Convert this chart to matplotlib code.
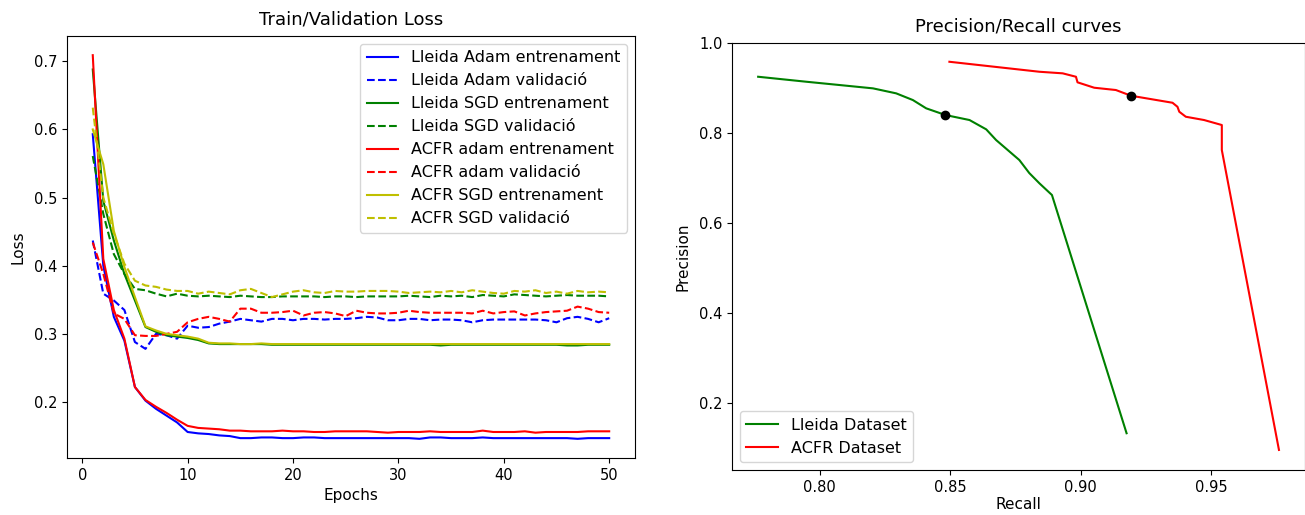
import matplotlib
matplotlib.use("Agg")
import matplotlib.pyplot as plt
from matplotlib.ticker import MultipleLocator, FormatStrFormatter
import numpy as np

epochs = np.arange(1, 51)

lleida_adam_train = [0.593, 0.400, 0.325, 0.290, 0.222, 0.202, 0.190, 0.180, 0.170, 0.156,
                     0.154, 0.153, 0.151, 0.150, 0.147, 0.147, 0.148, 0.148, 0.147, 0.147,
                     0.148, 0.148, 0.147, 0.147, 0.147, 0.147, 0.147, 0.147, 0.147, 0.147,
                     0.147, 0.146, 0.148, 0.148, 0.147, 0.147, 0.147, 0.148, 0.147, 0.147,
                     0.147, 0.147, 0.147, 0.147, 0.147, 0.147, 0.146, 0.147, 0.147, 0.147]
lleida_adam_val = [0.437, 0.359, 0.349, 0.335, 0.288, 0.278, 0.300, 0.298, 0.293, 0.312,
                   0.309, 0.310, 0.315, 0.318, 0.322, 0.320, 0.318, 0.322, 0.322, 0.320,
                   0.322, 0.322, 0.321, 0.322, 0.322, 0.323, 0.325, 0.324, 0.320, 0.320,
                   0.322, 0.322, 0.320, 0.321, 0.321, 0.320, 0.317, 0.320, 0.321, 0.321,
                   0.321, 0.321, 0.321, 0.320, 0.317, 0.323, 0.325, 0.322, 0.317, 0.323]
lleida_sgd_train = [0.688, 0.495, 0.437, 0.388, 0.349, 0.310, 0.303, 0.298, 0.296, 0.294,
                    0.291, 0.286, 0.285, 0.285, 0.285, 0.285, 0.285, 0.284, 0.284, 0.284,
                    0.284, 0.284, 0.284, 0.284, 0.284, 0.284, 0.284, 0.284, 0.284, 0.284,
                    0.284, 0.284, 0.284, 0.283, 0.284, 0.284, 0.284, 0.284, 0.284, 0.284,
                    0.284, 0.284, 0.284, 0.284, 0.284, 0.283, 0.283, 0.284, 0.284, 0.284]
lleida_sgd_val = [0.561, 0.476, 0.417, 0.388, 0.366, 0.364, 0.359, 0.355, 0.359, 0.356,
                  0.355, 0.356, 0.355, 0.354, 0.356, 0.355, 0.354, 0.354, 0.355, 0.355,
                  0.355, 0.355, 0.354, 0.355, 0.355, 0.354, 0.355, 0.355, 0.355, 0.355,
                  0.356, 0.355, 0.354, 0.356, 0.355, 0.356, 0.354, 0.357, 0.356, 0.355,
                  0.358, 0.357, 0.356, 0.355, 0.356, 0.357, 0.356, 0.356, 0.356, 0.355]
acfr_adam_train = [0.709, 0.410, 0.335, 0.293, 0.222, 0.203, 0.193, 0.184, 0.174, 0.165,
                   0.162, 0.161, 0.160, 0.158, 0.158, 0.157, 0.157, 0.157, 0.158, 0.157,
                   0.157, 0.156, 0.156, 0.157, 0.157, 0.157, 0.157, 0.156, 0.155, 0.156,
                   0.156, 0.156, 0.157, 0.156, 0.156, 0.156, 0.156, 0.158, 0.156, 0.156,
                   0.156, 0.157, 0.155, 0.156, 0.156, 0.156, 0.156, 0.157, 0.157, 0.157]
acfr_adam_val = [0.434, 0.388, 0.330, 0.322, 0.298, 0.297, 0.297, 0.300, 0.303, 0.317,
                 0.322, 0.325, 0.322, 0.318, 0.337, 0.337, 0.331, 0.331, 0.332, 0.334,
                 0.327, 0.331, 0.332, 0.330, 0.326, 0.334, 0.331, 0.330, 0.330, 0.331,
                 0.334, 0.332, 0.331, 0.331, 0.331, 0.331, 0.330, 0.334, 0.330, 0.332,
                 0.333, 0.327, 0.330, 0.332, 0.333, 0.334, 0.340, 0.337, 0.332, 0.331]
acfr_sgd_train = [0.600, 0.549, 0.451, 0.398, 0.354, 0.311, 0.305, 0.300, 0.298, 0.296,
                  0.293, 0.287, 0.286, 0.286, 0.285, 0.285, 0.286, 0.285, 0.285, 0.285,
                  0.285, 0.285, 0.285, 0.285, 0.285, 0.285, 0.285, 0.285, 0.285, 0.285,
                  0.285, 0.285, 0.285, 0.285, 0.285, 0.285, 0.285, 0.285, 0.285, 0.285,
                  0.285, 0.285, 0.285, 0.285, 0.285, 0.285, 0.285, 0.285, 0.285, 0.285]
acfr_sgd_val = [0.632, 0.500, 0.447, 0.403, 0.378, 0.371, 0.369, 0.365, 0.363, 0.363,
                0.359, 0.362, 0.360, 0.358, 0.364, 0.366, 0.360, 0.354, 0.358, 0.362,
                0.364, 0.361, 0.360, 0.363, 0.362, 0.362, 0.363, 0.363, 0.363, 0.362,
                0.360, 0.361, 0.362, 0.361, 0.363, 0.361, 0.364, 0.362, 0.360, 0.359,
                0.363, 0.362, 0.364, 0.360, 0.362, 0.359, 0.363, 0.361, 0.362, 0.361]

lleida_recall = [0.7764, 0.7949, 0.8076, 0.8204, 0.8293, 0.8357, 0.8408, 0.8482, 0.8574,
                 0.8638, 0.8676, 0.8765, 0.8803, 0.8842, 0.8890, 0.9176]
lleida_precision = [0.9251, 0.9140, 0.9067, 0.8993, 0.8882, 0.8733, 0.8549, 0.8400, 0.8289,
                    0.8082, 0.7844, 0.7400, 0.7111, 0.6882, 0.6622, 0.1327]
acfr_recall = [0.8497, 0.8842, 0.8931, 0.8982, 0.8988, 0.9052, 0.9135, 0.9193, 0.9352,
               0.9371, 0.9378, 0.9403, 0.9473, 0.9541, 0.9541, 0.9760]
acfr_precision = [0.9584, 0.9362, 0.9327, 0.9251, 0.9127, 0.9007, 0.8956, 0.8829, 0.8673,
                  0.8584, 0.8473, 0.8362, 0.8289, 0.8178, 0.7622, 0.0956]
lleida_point = (0.8482, 0.8400)
acfr_point = (0.9193, 0.8829)

fig = plt.figure(figsize=(13.05, 5.15), dpi=100)

# left: loss curves
ax1 = fig.add_axes([0.0513, 0.1107, 0.4353, 0.8194])
ax1.plot(epochs, lleida_adam_train, 'b-', label='Lleida Adam entrenament')
ax1.plot(epochs, lleida_adam_val, 'b--', label='Lleida Adam validació')
ax1.plot(epochs, lleida_sgd_train, 'g-', label='Lleida SGD entrenament')
ax1.plot(epochs, lleida_sgd_val, 'g--', label='Lleida SGD validació')
ax1.plot(epochs, acfr_adam_train, 'r-', label='ACFR adam entrenament')
ax1.plot(epochs, acfr_adam_val, 'r--', label='ACFR adam validació')
ax1.plot(epochs, acfr_sgd_train, 'y-', label='ACFR SGD entrenament')
ax1.plot(epochs, acfr_sgd_val, 'y--', label='ACFR SGD validació')
ax1.set_title('Train/Validation Loss', fontsize=13, pad=8)
ax1.set_xlabel('Epochs', fontsize=11)
ax1.set_ylabel('Loss', fontsize=11, labelpad=6)
ax1.tick_params(labelsize=10.5)
ax1.legend(loc='upper right', fontsize=11.5)

# right: precision/recall
ax2 = fig.add_axes([0.561, 0.0874, 0.439, 0.829])
ax2.plot(lleida_recall, lleida_precision, 'g-', label='Lleida Dataset')
ax2.plot(acfr_recall, acfr_precision, 'r-', label='ACFR Dataset')
ax2.plot(*lleida_point, 'ko', markersize=6)
ax2.plot(*acfr_point, 'ko', markersize=6)
ax2.set_ylim(0.051, 1.0)
ax2.xaxis.set_major_locator(MultipleLocator(0.05))
ax2.xaxis.set_major_formatter(FormatStrFormatter('%.2f'))
ax2.set_title('Precision/Recall curves', fontsize=13, pad=8)
ax2.set_xlabel('Recall', fontsize=11, labelpad=2)
ax2.set_ylabel('Precision', fontsize=11, labelpad=6)
ax2.tick_params(labelsize=10.5)
ax2.legend(loc='lower left', fontsize=11.5)

fig.savefig('out.png', dpi=100)
